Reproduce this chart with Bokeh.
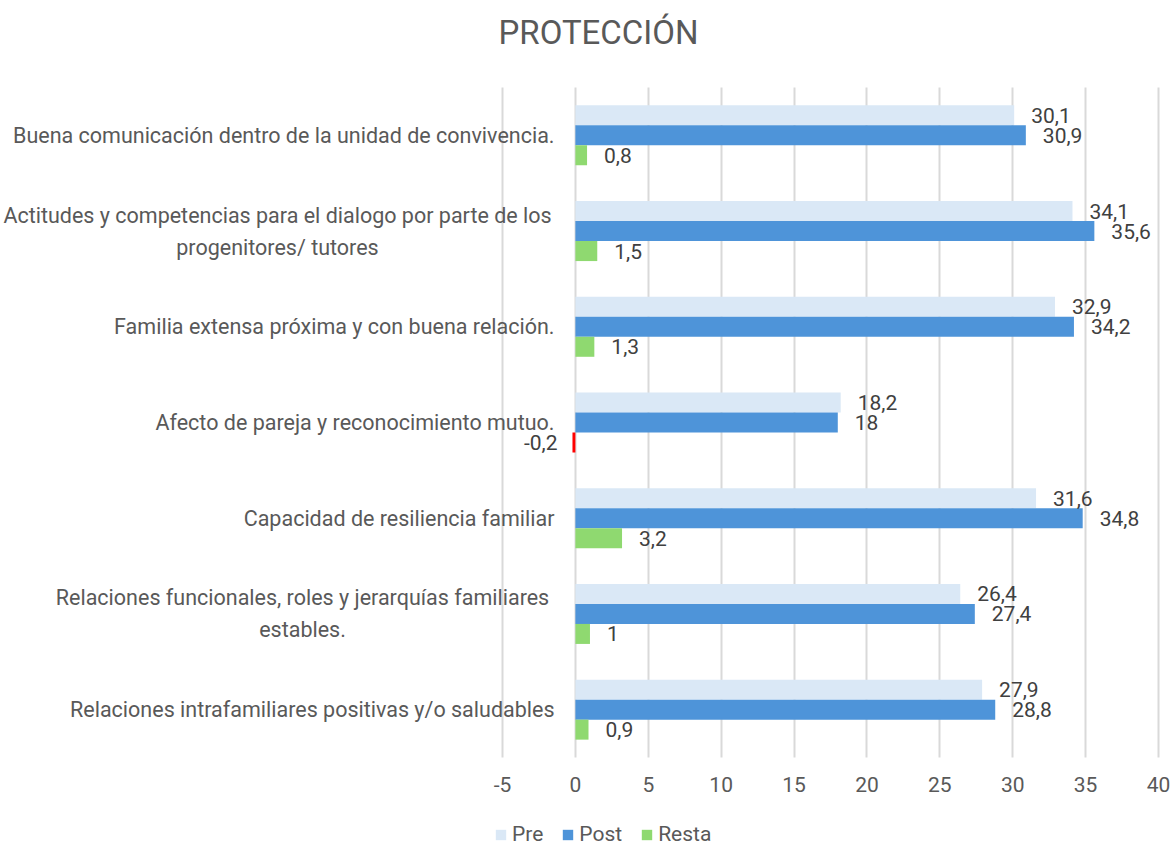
from bokeh.plotting import figure
from bokeh.models import ColumnDataSource, LabelSet, Label, Legend, LegendItem, FixedTicker, Range1d
from bokeh.core.properties import value
from bokeh.embed import file_html
from bokeh.resources import INLINE

# ---- data ----
categories = [
    "Buena comunicación dentro de la unidad de convivencia.",
    "Actitudes y competencias para el dialogo por parte de los progenitores/ tutores",
    "Familia extensa próxima y con buena relación.",
    "Afecto de pareja y reconocimiento mutuo.",
    "Capacidad de resiliencia familiar",
    "Relaciones funcionales, roles y jerarquías familiares estables.",
    "Relaciones intrafamiliares positivas y/o saludables",
]
category_lines = [
    ["Buena comunicación dentro de la unidad de convivencia."],
    ["Actitudes y competencias para el dialogo por parte de los", "progenitores/ tutores"],
    ["Familia extensa próxima y con buena relación."],
    ["Afecto de pareja y reconocimiento mutuo."],
    ["Capacidad de resiliencia familiar"],
    ["Relaciones funcionales, roles y jerarquías familiares", "estables."],
    ["Relaciones intrafamiliares positivas y/o saludables"],
]
pre = [30.1, 34.1, 32.9, 18.2, 31.6, 26.4, 27.9]
post = [30.9, 35.6, 34.2, 18.0, 34.8, 27.4, 28.8]
resta = [0.8, 1.5, 1.3, -0.2, 3.2, 1.0, 0.9]
x_ticks = [-5, 0, 5, 10, 15, 20, 25, 30, 35, 40]
series_names = ["Pre", "Post", "Resta"]
title_text = "PROTECCIÓN"

C_PRE = "#dae8f6"
C_POST = "#4e94d9"
C_RESTA = "#8fd970"
C_NEG = "#ff0000"
TXT = "#595959"
VAL = "#404040"
FONT = "Roboto"

W, H = 1173, 850
PLOT_L, PLOT_R = 502, 1158           # page px of x = -5 and x = 40
PLOT_T, PLOT_B = 87, 757             # page px of the bar area (gridline extent)
XMIN_VIS, XMAX_VIS = -5, 40
PX_X = (PLOT_R - PLOT_L) / float(XMAX_VIS - XMIN_VIS)
X_START = XMIN_VIS - PLOT_L / PX_X
X_END = XMAX_VIS + (W - PLOT_R) / PX_X

n = len(categories)
ypos = [n - 1 - i for i in range(n)]
PX_Y = (PLOT_B - PLOT_T) / float(n)
Y_LO, Y_HI = -0.5, n - 0.5
Y_START = Y_LO - (H - PLOT_B) / PX_Y
Y_END = Y_HI + PLOT_T / PX_Y
BH = 20 / PX_Y


def fmt(v):
    return ("%g" % v).replace(".", ",")


def px_to_x(px):
    return X_START + px / PX_X


def py_to_y(py):
    return Y_HI + (PLOT_T - py) / PX_Y


p = figure(width=W, height=H, output_backend="svg", toolbar_location=None,
           x_range=Range1d(X_START, X_END), y_range=Range1d(Y_START, Y_END),
           min_border_left=0, min_border_right=0, min_border_top=0, min_border_bottom=0)
p.title.visible = False
p.outline_line_color = None
p.background_fill_color = "white"
p.border_fill_color = "white"

src_pre = ColumnDataSource(dict(y=[y + BH for y in ypos], v=pre, t=[fmt(v) for v in pre]))
src_post = ColumnDataSource(dict(y=ypos, v=post, t=[fmt(v) for v in post]))
src_resta = ColumnDataSource(dict(y=[y - BH for y in ypos], v=resta, t=[fmt(v) for v in resta],
                                  c=[C_RESTA if v >= 0 else C_NEG for v in resta],
                                  xo=[17 if v >= 0 else -15 for v in resta],
                                  al=["left" if v >= 0 else "right" for v in resta]))

r_pre = p.hbar(y="y", right="v", left=0, height=BH, source=src_pre, fill_color=C_PRE, line_color=None)
r_post = p.hbar(y="y", right="v", left=0, height=BH, source=src_post, fill_color=C_POST, line_color=None)
r_resta = p.hbar(y="y", right="v", left=0, height=BH, source=src_resta, fill_color="c", line_color=None)

for src in (src_pre, src_post):
    p.add_layout(LabelSet(x="v", y="y", text="t", source=src, x_offset=17, text_align="left",
                          text_baseline="middle", text_font=value(FONT), text_font_size="21px",
                          text_color=VAL))
p.add_layout(LabelSet(x="v", y="y", text="t", source=src_resta, x_offset="xo", text_align="al",
                      text_baseline="middle", text_font=value(FONT), text_font_size="21px",
                      text_color=VAL))

# title
p.add_layout(Label(x=px_to_x(598), y=py_to_y(32), text=title_text, text_align="center",
                   text_baseline="middle", text_font=FONT, text_font_size="33px", text_color=TXT))

# category labels (left of the -5 line)
CAT_SIZE = "21.5px"
x_right = px_to_x(554)
two_line_center = {1: px_to_x(277), 5: px_to_x(302)}
dy = 16 / PX_Y
for i, lines in enumerate(category_lines):
    y = ypos[i]
    if len(lines) == 1:
        p.add_layout(Label(x=x_right, y=y, text=lines[0], text_align="right", text_baseline="middle",
                           text_font=FONT, text_font_size=CAT_SIZE, text_color=TXT))
    else:
        for k, line in enumerate(lines):
            p.add_layout(Label(x=two_line_center[i], y=y + dy - 2 * dy * k, text=line,
                               text_align="center", text_baseline="middle",
                               text_font=FONT, text_font_size=CAT_SIZE, text_color=TXT))

# axes
p.yaxis.visible = False
xa = p.xaxis[0]
xa.fixed_location = Y_LO
xa.ticker = FixedTicker(ticks=x_ticks)
xa.major_label_overrides = {t: str(t) for t in x_ticks}
xa.axis_line_color = None
xa.major_tick_line_color = None
xa.minor_tick_line_color = None
xa.major_tick_out = 0
xa.major_tick_in = 0
xa.minor_tick_out = 0
xa.major_label_standoff = 19
xa.major_label_text_font = FONT
xa.major_label_text_font_size = "21px"
xa.major_label_text_color = TXT
p.xgrid.ticker = FixedTicker(ticks=x_ticks)
p.xgrid.cross_bounds = (Y_LO, Y_HI)
p.xgrid.grid_line_color = "#d9d9d9"
p.xgrid.grid_line_width = 2
p.ygrid.grid_line_color = None

legend = Legend(items=[LegendItem(label=series_names[0], renderers=[r_pre]),
                       LegendItem(label=series_names[1], renderers=[r_post]),
                       LegendItem(label=series_names[2], renderers=[r_resta], index=0)],
                orientation="horizontal", location=(494, 4), padding=0, margin=0,
                spacing=18, glyph_width=13, glyph_height=13, label_standoff=5,
                label_text_font=FONT, label_text_font_size="21px", label_text_color=TXT,
                border_line_color=None, background_fill_alpha=0)
p.add_layout(legend, "center")

open("out.html", "w").write(file_html(p, INLINE))
